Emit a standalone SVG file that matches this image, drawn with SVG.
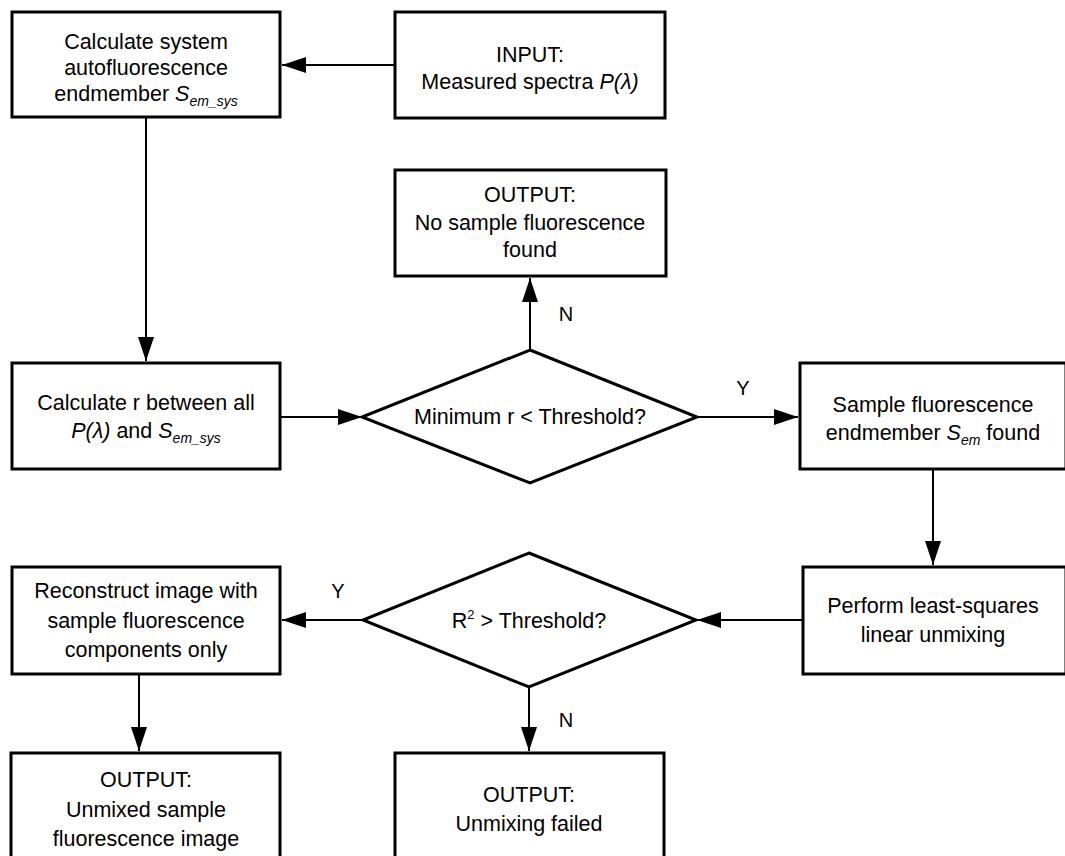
<svg xmlns="http://www.w3.org/2000/svg" width="1065" height="856" viewBox="0 0 1065 856">
<style>
.box{fill:#fff;stroke:#000;stroke-width:3}
.t{font-family:"Liberation Sans",Arial,sans-serif;font-size:21.5px;fill:#000;text-anchor:middle}
.lbl{font-family:"Liberation Sans",Arial,sans-serif;font-size:20px;fill:#000;text-anchor:middle}
.i{font-style:italic}
.sub{font-style:italic;font-size:14px}
.c{fill:none;stroke:#000;stroke-width:2}
</style>
<defs>
<marker id="ah" viewBox="0 0 24 16" refX="24" refY="8" markerWidth="24" markerHeight="16" markerUnits="userSpaceOnUse" orient="auto">
<path d="M0,0 L24,8 L0,16 Z" fill="#000"/>
</marker>
</defs>
<rect width="1065" height="856" fill="#fff"/>
<g id="connectors">
<line class="c" x1="395" y1="65" x2="282" y2="65" marker-end="url(#ah)"/>
<line class="c" x1="146" y1="117" x2="146" y2="361" marker-end="url(#ah)"/>
<line class="c" x1="280" y1="417" x2="362" y2="417" marker-end="url(#ah)"/>
<line class="c" x1="530" y1="350" x2="530" y2="278" marker-end="url(#ah)"/>
<line class="c" x1="697" y1="417" x2="798" y2="417" marker-end="url(#ah)"/>
<line class="c" x1="933" y1="469" x2="933" y2="565" marker-end="url(#ah)"/>
<line class="c" x1="803" y1="620" x2="697" y2="620" marker-end="url(#ah)"/>
<line class="c" x1="363" y1="620" x2="282" y2="620" marker-end="url(#ah)"/>
<line class="c" x1="139" y1="674" x2="139" y2="751" marker-end="url(#ah)"/>
<line class="c" x1="529" y1="687" x2="529" y2="751" marker-end="url(#ah)"/>
<text class="lbl" x="566" y="321">N</text>
<text class="lbl" x="743" y="395">Y</text>
<text class="lbl" x="338" y="598">Y</text>
<text class="lbl" x="566" y="727">N</text>
</g>
<g id="calc-sys">
<rect class="box" x="12" y="12" width="268" height="105"/>
<text class="t" x="146" y="49">Calculate system</text>
<text class="t" x="146" y="75">autofluorescence</text>
<text class="t" x="146" y="101">endmember <tspan class="i">S</tspan><tspan class="sub" dy="5">em_sys</tspan></text>
</g>
<g id="input">
<rect class="box" x="395" y="12" width="270" height="106"/>
<text class="t" x="530" y="62">INPUT:</text>
<text class="t" x="530" y="89">Measured spectra <tspan class="i">P(λ)</tspan></text>
</g>
<g id="out-none">
<rect class="box" x="395" y="170" width="271" height="106"/>
<text class="t" x="530" y="202">OUTPUT:</text>
<text class="t" x="530" y="230">No sample fluorescence</text>
<text class="t" x="530" y="257">found</text>
</g>
<g id="calc-r">
<rect class="box" x="12" y="363" width="268" height="106"/>
<text class="t" x="146" y="410">Calculate r between all</text>
<text class="t" x="146" y="438"><tspan class="i">P(λ)</tspan> and <tspan class="i">S</tspan><tspan class="sub" dy="5">em_sys</tspan></text>
</g>
<g id="dec1">
<polygon class="box" points="530,350 697,417 530,483 362,417"/>
<text class="t" x="530" y="424">Minimum r &lt; Threshold?</text>
</g>
<g id="sample-found">
<rect class="box" x="800" y="363" width="266" height="106"/>
<text class="t" x="933" y="412">Sample fluorescence</text>
<text class="t" x="933" y="440">endmember <tspan class="i">S</tspan><tspan class="sub" dy="5">em</tspan><tspan dy="-5"> found</tspan></text>
</g>
<g id="unmix">
<rect class="box" x="803" y="567" width="263" height="107"/>
<text class="t" x="933" y="613">Perform least-squares</text>
<text class="t" x="933" y="642">linear unmixing</text>
</g>
<g id="dec2">
<polygon class="box" points="529,553 696,620 529,687 363,620"/>
<text class="t" x="529" y="628">R<tspan font-size="13" dy="-9">2</tspan><tspan dy="9"> &gt; Threshold?</tspan></text>
</g>
<g id="reconstruct">
<rect class="box" x="12" y="567" width="268" height="107"/>
<text class="t" x="146" y="598">Reconstruct image with</text>
<text class="t" x="146" y="628">sample fluorescence</text>
<text class="t" x="146" y="657">components only</text>
</g>
<g id="out-unmixed">
<rect class="box" x="11" y="753" width="269" height="110"/>
<text class="t" x="146" y="787">OUTPUT:</text>
<text class="t" x="146" y="817">Unmixed sample</text>
<text class="t" x="146" y="846">fluorescence image</text>
</g>
<g id="out-failed">
<rect class="box" x="395" y="753" width="269" height="110"/>
<text class="t" x="529" y="802">OUTPUT:</text>
<text class="t" x="529" y="831">Unmixing failed</text>
</g>
</svg>
